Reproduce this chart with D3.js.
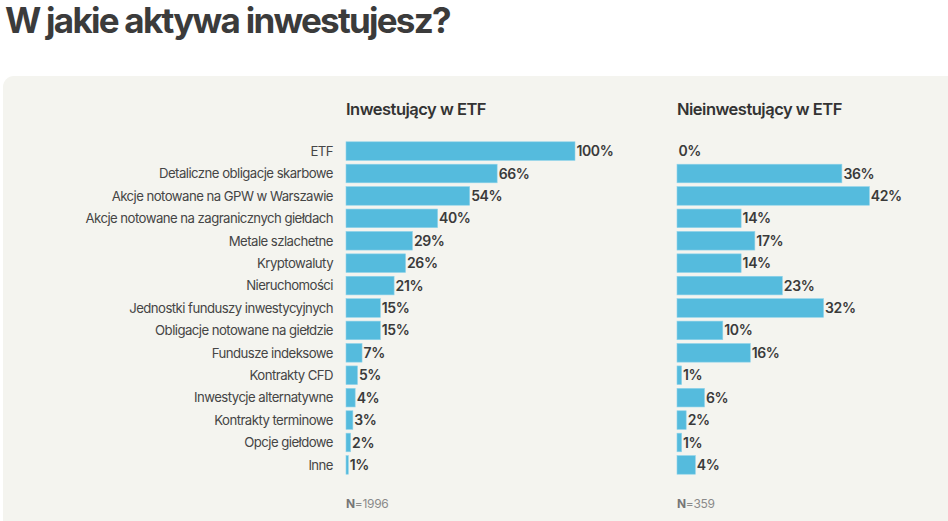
<!DOCTYPE html>
<html>
<head>
<meta charset="utf-8">
<script src="https://cdn.jsdelivr.net/npm/d3@7/dist/d3.min.js"></script>
<style>
  body { margin: 0; background: #fff; }
  svg { display: block; font-family: Inter, "Noto Sans", sans-serif; }
</style>
</head>
<body>
<svg id="chart"></svg>
<script>
// Kategorie i wartości (%)
const categories = [
  "ETF",
  "Detaliczne obligacje skarbowe",
  "Akcje notowane na GPW w Warszawie",
  "Akcje notowane na zagranicznych giełdach",
  "Metale szlachetne",
  "Kryptowaluty",
  "Nieruchomości",
  "Jednostki funduszy inwestycyjnych",
  "Obligacje notowane na giełdzie",
  "Fundusze indeksowe",
  "Kontrakty CFD",
  "Inwestycje alternatywne",
  "Kontrakty terminowe",
  "Opcje giełdowe",
  "Inne"
];
const investing = [100, 66, 54, 40, 29, 26, 21, 15, 15, 7, 5, 4, 3, 2, 1];
const nonInvesting = [0, 36, 42, 14, 17, 14, 23, 32, 10, 16, 1, 6, 2, 1, 4];
const panelTitles = ["Inwestujący w ETF", "Nieinwestujący w ETF"];
const sampleSizes = [1996, 359];
const domainMax = [100, 50];

const W = 948, H = 521;
const svg = d3.select("#chart").attr("width", W).attr("height", H);

// Tytuł
svg.append("text")
  .attr("x", 5).attr("y", 33)
  .attr("font-size", 35).attr("font-weight", 700)
  .attr("letter-spacing", -1.75)
  .attr("fill", "#3b3b3b")
  .text("W jakie aktywa inwestujesz?");

// Tło panelu
svg.append("rect")
  .attr("x", 3).attr("y", 76)
  .attr("width", W + 20).attr("height", H)
  .attr("rx", 11)
  .attr("fill", "#f4f4ef");

// Skala pionowa
const y = d3.scaleBand()
  .domain(categories)
  .range([140, 476])
  .paddingInner(0.17).paddingOuter(0.08);

// Etykiety kategorii
svg.append("g")
  .selectAll("text")
  .data(categories)
  .join("text")
  .attr("x", 333)
  .attr("y", d => y(d) + y.bandwidth() / 2)
  .attr("dy", "0.36em")
  .attr("text-anchor", "end")
  .attr("font-size", 13.2)
  .attr("letter-spacing", -0.55)
  .attr("fill", "#454545")
  .text(d => d);

const panels = [
  { x0: 346, values: investing },
  { x0: 677, values: nonInvesting }
];

panels.forEach((p, i) => {
  const x = d3.scaleLinear().domain([0, domainMax[i]]).range([p.x0, p.x0 + 229]);
  const g = svg.append("g");

  // Tytuł panelu
  g.append("text")
    .attr("x", p.x0).attr("y", 115)
    .attr("font-size", 16.5).attr("font-weight", 600)
    .attr("letter-spacing", -0.5)
    .attr("fill", "#333")
    .text(panelTitles[i]);

  // Słupki
  g.selectAll("rect")
    .data(p.values)
    .join("rect")
    .attr("x", x(0))
    .attr("y", (d, j) => y(categories[j]))
    .attr("width", d => x(d) - x(0))
    .attr("height", y.bandwidth())
    .attr("fill", "#55bbdd")
    .attr("stroke", "#8fd3ea")
    .attr("stroke-width", d => d > 0 ? 0.6 : 0);

  // Etykiety wartości
  g.selectAll("text.val")
    .data(p.values)
    .join("text")
    .attr("class", "val")
    .attr("x", d => x(d) + 1.5)
    .attr("y", (d, j) => y(categories[j]) + y.bandwidth() / 2)
    .attr("dy", "0.36em")
    .attr("font-size", 14).attr("font-weight", 600)
    .attr("letter-spacing", -0.4)
    .attr("fill", "#3a3a3a")
    .text(d => d + "%");

  // Liczebność próby
  const n = g.append("text")
    .attr("x", p.x0).attr("y", 508)
    .attr("font-size", 12)
    .attr("letter-spacing", -0.3)
    .attr("fill", "#8a8a8a");
  n.append("tspan").attr("font-weight", 700).attr("fill", "#777").text("N");
  n.append("tspan").text("=" + sampleSizes[i]);
});
</script>
</body>
</html>
